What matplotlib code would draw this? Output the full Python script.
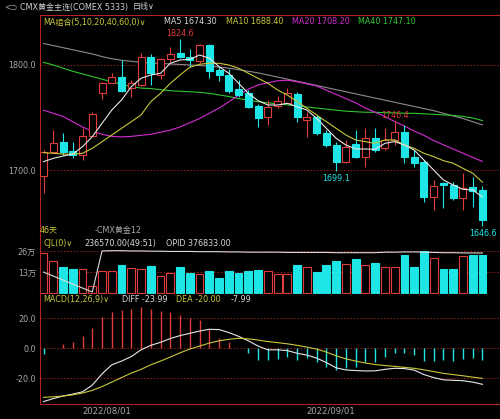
import numpy as np
import matplotlib
matplotlib.use("Agg")
import matplotlib.pyplot as plt

plt.rcParams['font.family'] = ['DejaVu Sans', 'Noto Sans CJK SC']

# ---- data (46 daily candles) ----
opens = [1694.3, 1717.4, 1727.0, 1718.4, 1714.3, 1732.4, 1773.0, 1783.2, 1788.9, 1777.8,
         1781.0, 1807.9, 1790.5, 1805.4, 1811.7, 1807.9, 1804.1, 1819.0, 1795.2, 1790.5,
         1776.8, 1773.0, 1761.0, 1750.2, 1760.9, 1764.1, 1772.4, 1747.6, 1750.2, 1735.6,
         1723.8, 1707.9, 1724.8, 1712.7, 1730.2, 1720.6, 1728.6, 1736.5, 1712.1, 1707.9,
         1674.6, 1687.9, 1685.7, 1673.0, 1683.5, 1681.0]
highs = [1719.0, 1738.1, 1735.0, 1727.0, 1739.7, 1755.5, 1784.0, 1792.7, 1804.8, 1785.7,
         1811.7, 1810.5, 1806.4, 1816.9, 1824.6, 1815.0, 1819.7, 1820.0, 1797.8, 1795.9,
         1785.7, 1776.2, 1762.9, 1766.7, 1770.5, 1777.8, 1774.6, 1755.5, 1752.4, 1738.1,
         1727.0, 1728.6, 1738.1, 1739.7, 1739.7, 1739.7, 1746.4, 1742.9, 1719.0, 1709.5,
         1690.5, 1688.9, 1688.9, 1697.4, 1693.7, 1684.8]
lows = [1677.8, 1715.9, 1714.3, 1711.1, 1709.5, 1732.0, 1768.0, 1782.6, 1774.6, 1769.8,
        1780.0, 1781.0, 1786.4, 1803.2, 1806.4, 1798.4, 1801.6, 1787.3, 1785.0, 1773.6,
        1769.8, 1758.8, 1740.7, 1742.9, 1759.0, 1763.5, 1746.0, 1731.7, 1733.3, 1722.2,
        1699.1, 1706.4, 1711.1, 1703.2, 1717.4, 1719.0, 1723.8, 1706.4, 1703.2, 1669.8,
        1661.9, 1663.5, 1671.4, 1661.9, 1665.1, 1646.6]
closes = [1717.4, 1725.4, 1717.4, 1714.3, 1732.4, 1753.3, 1782.6, 1788.9, 1775.5, 1782.6,
          1807.3, 1792.0, 1805.4, 1810.5, 1807.3, 1804.8, 1819.0, 1794.6, 1790.5, 1775.5,
          1771.4, 1759.7, 1749.2, 1760.3, 1765.7, 1773.0, 1750.8, 1750.2, 1735.0, 1723.8,
          1707.9, 1722.2, 1712.7, 1730.2, 1719.0, 1728.6, 1736.5, 1712.7, 1707.0, 1674.6,
          1684.8, 1685.7, 1673.0, 1682.5, 1680.3, 1652.4]

ma5 = [1707.9, 1711.1, 1713.3, 1715.2, 1722.2, 1731.7, 1744.5, 1757.1, 1766.7, 1779.3,
       1787.3, 1790.5, 1792.1, 1801.6, 1804.8, 1805.4, 1809.5, 1806.4, 1798.4, 1792.1,
       1782.6, 1773.0, 1766.0, 1761.9, 1761.9, 1763.5, 1760.3, 1757.1, 1749.2, 1739.7,
       1730.2, 1723.8, 1720.0, 1720.0, 1719.7, 1725.4, 1727.0, 1723.8, 1719.0, 1709.5,
       1700.0, 1690.5, 1685.7, 1681.6, 1681.0, 1674.3]
ma10 = [1716.5, 1715.9, 1715.2, 1714.9, 1715.9, 1720.6, 1727.0, 1733.3, 1739.7, 1746.0,
        1752.4, 1765.1, 1773.0, 1782.6, 1790.5, 1797.8, 1800.7, 1801.6, 1801.6, 1800.0,
        1796.9, 1792.1, 1787.3, 1782.6, 1776.2, 1771.4, 1765.1, 1758.8, 1752.4, 1746.0,
        1739.7, 1733.3, 1728.6, 1727.0, 1725.4, 1728.6, 1728.6, 1723.8, 1720.6, 1715.9,
        1712.7, 1708.9, 1706.4, 1701.6, 1696.9, 1688.4]
ma20 = [1757.0, 1754.0, 1751.0, 1746.0, 1741.0, 1737.0, 1734.0, 1732.0, 1731.5, 1732.0,
        1733.0, 1734.0, 1736.0, 1738.0, 1741.0, 1745.0, 1749.0, 1754.0, 1759.0, 1765.0,
        1771.0, 1777.0, 1781.0, 1783.0, 1785.0, 1785.5, 1784.0, 1782.0, 1780.0, 1776.0,
        1772.0, 1768.0, 1764.0, 1759.0, 1755.0, 1751.0, 1746.0, 1742.0, 1737.0, 1733.0,
        1728.0, 1724.0, 1720.0, 1716.0, 1712.0, 1708.2]
ma40 = [1802.5, 1800.0, 1797.0, 1794.0, 1791.5, 1789.0, 1786.5, 1784.0, 1781.5, 1779.5,
        1778.0, 1777.5, 1776.5, 1775.5, 1775.0, 1774.5, 1774.0, 1773.0, 1771.5, 1770.0,
        1768.0, 1766.5, 1765.0, 1764.0, 1763.0, 1762.0, 1761.0, 1760.0, 1759.0, 1758.0,
        1757.0, 1756.0, 1755.5, 1755.0, 1755.0, 1754.5, 1754.5, 1754.0, 1754.0, 1753.5,
        1753.0, 1752.5, 1752.0, 1751.0, 1749.5, 1747.1]
ma60 = [1820.5, 1818.5, 1816.5, 1814.5, 1812.5, 1810.5, 1808.0, 1806.0, 1804.5, 1803.5,
        1802.5, 1802.0, 1801.5, 1801.0, 1800.5, 1800.0, 1799.5, 1799.0, 1798.0, 1797.0,
        1795.5, 1794.0, 1792.5, 1790.5, 1788.5, 1786.5, 1784.5, 1782.5, 1780.5, 1778.5,
        1776.5, 1774.5, 1772.5, 1770.5, 1768.5, 1766.5, 1764.5, 1762.5, 1760.5, 1758.5,
        1756.5, 1754.0, 1751.5, 1749.0, 1746.0, 1743.0]

# volume and open interest, in units of 万 (10k)
volume = [24.6, 19.8, 15.9, 14.7, 14.7, 4.3, 13.8, 13.4, 17.1, 15.3,
          14.7, 16.7, 10.5, 12.2, 15.9, 12.2, 11.8, 13.8, 9.3, 13.8,
          12.6, 13.8, 14.2, 13.8, 11.8, 11.8, 17.1, 15.9, 13.0, 17.1,
          19.6, 18.0, 20.9, 17.3, 18.8, 15.9, 15.9, 23.3, 16.3, 25.8,
          21.5, 14.7, 14.7, 22.9, 23.7, 23.657]
opid = [30.0, 28.4, 26.8, 25.2, 23.6, 22.0, 38.5, 38.6, 38.6, 38.5,
        38.5, 38.4, 38.4, 38.3, 38.3, 38.3, 38.2, 38.2, 38.2, 38.1,
        38.1, 38.0, 38.0, 38.0, 38.0, 37.9, 37.9, 37.9, 37.9, 37.9,
        37.8, 37.8, 37.8, 37.8, 37.8, 38.0, 38.0, 38.1, 38.1, 38.0,
        37.9, 37.8, 37.8, 37.7, 37.7, 37.68]

diff = [-35.5, -33.5, -31.8, -30.5, -29.0, -24.5, -17.0, -11.0, -8.5, -5.5,
        -1.0, 2.0, 4.0, 6.5, 8.5, 10.0, 11.5, 12.7, 12.5, 10.5,
        8.0, 5.0, 1.5, -1.0, -1.0, -1.5, -3.3, -4.5, -6.5, -9.5,
        -13.0, -14.4, -14.8, -15.1, -15.0, -14.0, -13.3, -13.5, -14.5, -17.5,
        -19.5, -21.0, -21.3, -21.6, -22.5, -23.99]
dea = [-32.7, -32.3, -31.8, -31.0, -29.8, -28.0, -25.5, -22.5, -19.5, -16.5,
       -14.0, -11.0, -8.5, -5.8, -3.0, -0.5, 1.5, 3.5, 5.0, 6.0,
       6.7, 6.3, 5.5, 4.5, 3.8, 3.0, 2.0, 0.8, -0.5, -2.5,
       -5.0, -7.0, -8.5, -9.8, -10.8, -11.5, -12.0, -12.7, -13.3, -14.3,
       -15.5, -16.7, -17.5, -18.3, -19.2, -20.0]
macd = [-4.0, 0.3, 2.9, 4.4, 8.2, 13.3, 20.7, 24.4, 25.5, 26.0,
        27.7, 26.0, 25.1, 24.0, 22.2, 20.0, 18.9, 12.7, 6.7, 4.4,
        0.5, -3.0, -7.8, -7.8, -7.3, -5.5, -7.8, -6.7, -8.9, -12.2,
        -14.4, -13.3, -12.7, -8.9, -8.9, -5.5, -2.9, -3.3, -4.4, -8.2,
        -8.2, -7.8, -8.2, -7.3, -6.7, -7.99]

price_ticks = [1700, 1800]
vol_ticks = [13, 26]
vol_tick_labels = ["13万", "26万"]
macd_ticks = [-20, 0, 20]
date_idx = [6, 29]
date_labels = ["2022/08/01", "2022/09/01"]
marks = [(14, 1824.6, 'hi'), (36, 1746.4, 'hi'), (30, 1699.1, 'lo'), (45, 1646.6, 'lo')]

# ---- style ----
BG = 'black'
RED = '#e03c3c'
CYAN = '#1ee6e6'
GRID = '#9a1e1e'
BORDER = '#b42323'
LBL = '#a8a8a8'
FS = 5.8

x = np.arange(len(closes))
up = [c >= o for o, c in zip(opens, closes)]
colors = [RED if u else CYAN for u in up]

fig = plt.figure(figsize=(5.0, 4.19), dpi=100, facecolor=BG)
W, H = 500.0, 419.0


def panel(top, bottom):
    return fig.add_axes([40 / W, 1 - bottom / H, 460 / W, (bottom - top) / H], facecolor=BG)


ax = panel(15, 237)
axv = panel(237, 294)
axm = panel(294, 404)

for a in (ax, axv, axm):
    a.set_xlim(-0.36, 46.8)
    for s in a.spines.values():
        s.set_visible(False)
    a.spines['left'].set_visible(True)
    a.spines['left'].set_color(BORDER)
    a.spines['bottom'].set_visible(True)
    a.spines['bottom'].set_color(BORDER)
    a.tick_params(axis='both', length=0, colors=LBL, labelsize=FS, pad=3)
    a.set_xticks([])
ax.spines['top'].set_visible(True)
ax.spines['top'].set_color(BORDER)

# ---- main candles ----
ax.set_ylim(1636.2, 1847.6)
for p in price_ticks:
    ax.axhline(p, color=GRID, lw=0.6, ls=(0, (2, 2)), zorder=0)
ax.set_yticks(price_ticks)
ax.set_yticklabels([f"{p:.1f}" for p in price_ticks])

ax.vlines(x, lows, highs, colors=colors, lw=0.8, zorder=2)
bodies = [c - o for o, c in zip(opens, closes)]
ax.bar(x, bodies, bottom=opens, width=0.72,
       color=[BG if u else CYAN for u in up],
       edgecolor=colors, linewidth=0.8, zorder=3)

ax.plot(x, ma60, color='#8c8c8c', lw=0.8, zorder=1)
ax.plot(x, ma40, color='#2ec82e', lw=0.8, zorder=1)
ax.plot(x, ma20, color='#d22cd2', lw=0.8, zorder=1)
ax.plot(x, ma10, color='#c8c83a', lw=0.8, zorder=4)
ax.plot(x, ma5, color='#e8e8e8', lw=0.8, zorder=4)

for i, v, kind in marks:
    c = RED if kind == 'hi' else CYAN
    off = 1 if kind == 'hi' else -2
    ax.annotate(f"{v:.1f}", (i, v), xytext=(0, off), textcoords='offset points',
                ha='center', va='bottom' if kind == 'hi' else 'top',
                color=c, fontsize=FS, annotation_clip=False, zorder=5)

# ---- volume ----
axv.set_ylim(-0.6, 34.7)
for v in vol_ticks:
    axv.axhline(v, color=GRID, lw=0.6, ls=(0, (2, 2)), zorder=0)
axv.set_yticks(vol_ticks)
axv.set_yticklabels(vol_tick_labels)
axv.bar(x, volume, width=0.8, color=[BG if u else CYAN for u in up],
        edgecolor=colors, linewidth=0.8, zorder=2)
axo = axv.twinx()
axo.set_ylim(21.2, 44.1)
axo.set_xlim(-0.36, 46.8)
axo.axis('off')
axo.plot(x, opid, color='#dcdcdc', lw=0.8)

# ---- MACD ----
axm.set_ylim(-37.1, 36.2)
for v in macd_ticks:
    axm.axhline(v, color=GRID, lw=0.6, ls=(0, (2, 2)), zorder=0)
axm.set_yticks(macd_ticks)
axm.set_yticklabels([f"{v:.1f}" for v in macd_ticks])
axm.vlines(x, 0, macd, colors=[RED if m >= 0 else CYAN for m in macd], lw=1.0, zorder=2)
axm.plot(x, diff, color='#e8e8e8', lw=0.8, zorder=3)
axm.plot(x, dea, color='#c8c83a', lw=0.8, zorder=3)
axm.set_xticks([d + 0.5 for d in date_idx])
axm.set_xticklabels(date_labels)
axm.tick_params(axis='x', pad=2, labelsize=FS + 0.3)

# ---- header texts ----
def ftxt(px, py, s, c, **kw):
    fig.text(px / W, 1 - py / H, s, color=c, fontsize=FS, va='center', ha='left', **kw)


ftxt(4, 7, "<⊃", LBL)
ftxt(20, 7, "CMX黄金主连(COMEX 5333)", '#d0d0d0')
ftxt(133, 7, "日线∨", '#d0d0d0')

ftxt(43, 22, "MA组合(5,10,20,40,60,0)∨", '#c8c83a')
ftxt(164, 22, f"MA5 {ma5[-1]:.2f}", '#d8d8d8')
ftxt(226, 22, f"MA10 {ma10[-1]:.2f}", '#c8c83a')
ftxt(292, 22, f"MA20 {ma20[-1]:.2f}", '#d22cd2')
ftxt(358, 22, f"MA40 {ma40[-1]:.2f}", '#2ec82e')

ftxt(40, 230, "46天", '#c8c83a')
ftxt(95, 230, "-CMX黄金12", LBL)

ftxt(43, 243, "CJL(0)∨", '#c8c83a')
ftxt(84, 243, "236570.00(49:51)", '#d8d8d8')
ftxt(166, 243, "OPID 376833.00", '#d8d8d8')

ftxt(43, 299, "MACD(12,26,9)∨", '#c8c83a')
ftxt(122, 299, f"DIFF {diff[-1]:.2f}", '#d8d8d8')
ftxt(176, 299, f"DEA {dea[-1]:.2f}", '#c8c83a')
ftxt(231, 299, f"{macd[-1]:.2f}", '#d8d8d8')

fig.savefig("out.png", dpi=100, facecolor=BG)
